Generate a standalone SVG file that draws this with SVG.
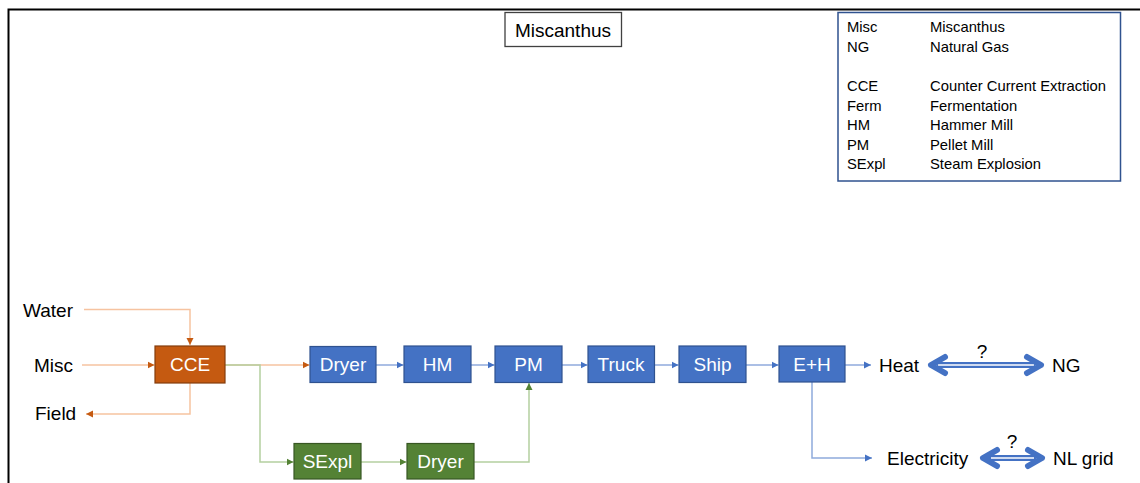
<svg xmlns="http://www.w3.org/2000/svg" width="1140" height="483" viewBox="0 0 1140 483">
<style>
text{font-family:"Liberation Sans",Arial,sans-serif;}
.lbl{font-size:19px;fill:#000;dominant-baseline:central;}
.nt{font-size:19px;fill:#fff;text-anchor:middle;dominant-baseline:central;}
.lg{font-size:14.8px;fill:#000;}
.blue{fill:#4472C4;stroke:#2F528F;stroke-width:1.2;}
.orange{fill:#C55A11;stroke:#843C0C;stroke-width:1.2;}
.green{fill:#548235;stroke:#385723;stroke-width:1.2;}
.co{fill:none;stroke:#F6C3A0;stroke-width:1.5;}
.cg{fill:none;stroke:#B4CFA0;stroke-width:1.5;}
.cb{fill:none;stroke:#8FAADC;stroke-width:1.5;}
.dbl{fill:none;stroke:#4472C4;stroke-width:6;stroke-linejoin:round;stroke-linecap:round;}
</style>
<defs>
<marker id="ao" markerUnits="userSpaceOnUse" markerWidth="8" markerHeight="8" refX="7" refY="4" orient="auto"><path d="M0,0.5 L7,4 L0,7.5 Z" fill="#C55A11"/></marker>
<marker id="ag" markerUnits="userSpaceOnUse" markerWidth="8" markerHeight="8" refX="7" refY="4" orient="auto"><path d="M0,0.5 L7,4 L0,7.5 Z" fill="#548235"/></marker>
<marker id="ab" markerUnits="userSpaceOnUse" markerWidth="8" markerHeight="8" refX="7" refY="4" orient="auto"><path d="M0,0.5 L7,4 L0,7.5 Z" fill="#4472C4"/></marker>
</defs>
<rect width="1140" height="483" fill="#fff"/>
<path d="M8.5,483 V9.5 H1140" fill="none" stroke="#000" stroke-width="2"/>

<g id="title"><rect x="505" y="12.5" width="116.5" height="34" fill="#fff" stroke="#404040" stroke-width="1.3"/><text x="563" y="30" class="lbl" text-anchor="middle">Miscanthus</text></g>

<g id="legend">
<rect x="838" y="12.5" width="282.5" height="168.5" fill="#fff" stroke="#2F528F" stroke-width="1.5"/>
<text class="lg" x="847" y="32">Misc</text><text class="lg" x="930" y="32">Miscanthus</text>
<text class="lg" x="847" y="51.5">NG</text><text class="lg" x="930" y="51.5">Natural Gas</text>
<text class="lg" x="847" y="91">CCE</text><text class="lg" x="930" y="91">Counter Current Extraction</text>
<text class="lg" x="847" y="110.5">Ferm</text><text class="lg" x="930" y="110.5">Fermentation</text>
<text class="lg" x="847" y="130">HM</text><text class="lg" x="930" y="130">Hammer Mill</text>
<text class="lg" x="847" y="149.5">PM</text><text class="lg" x="930" y="149.5">Pellet Mill</text>
<text class="lg" x="847" y="169">SExpl</text><text class="lg" x="930" y="169">Steam Explosion</text>
</g>

<g id="connectors">
<path class="co" d="M84,309.5 H190 V345" marker-end="url(#ao)"/>
<path class="co" d="M82,365 H154.5" marker-end="url(#ao)"/>
<path class="co" d="M190,383 V414 H86" marker-end="url(#ao)"/>
<path class="co" d="M225,365 H309.5" marker-end="url(#ao)"/>
<path class="cg" d="M225,365 H260 V462 H293.5" marker-end="url(#ag)"/>
<path class="cg" d="M361,462 H406.5" marker-end="url(#ag)"/>
<path class="cg" d="M474,462 H529 V383" marker-end="url(#ag)"/>
<path class="cb" d="M376,365 H403.5" marker-end="url(#ab)"/>
<path class="cb" d="M471,365 H494.5" marker-end="url(#ab)"/>
<path class="cb" d="M562,365 H587.5" marker-end="url(#ab)"/>
<path class="cb" d="M654,365 H678.5" marker-end="url(#ab)"/>
<path class="cb" d="M746,365 H778.5" marker-end="url(#ab)"/>
<path class="cb" d="M845,365 H871" marker-end="url(#ab)"/>
<path class="cb" d="M812,382 V458 H872" marker-end="url(#ab)"/>
</g>

<g id="lbl-water"><text class="lbl" x="23" y="310">Water</text></g>
<g id="lbl-misc"><text class="lbl" x="34" y="365">Misc</text></g>
<g id="lbl-field"><text class="lbl" x="35" y="413">Field</text></g>

<g id="node-cce"><rect class="orange" x="155" y="346" width="70" height="37"/><text class="nt" x="190" y="364.5">CCE</text></g>
<g id="node-dryer1"><rect class="blue" x="310" y="346.5" width="66" height="36"/><text class="nt" x="343" y="364.5">Dryer</text></g>
<g id="node-hm"><rect class="blue" x="404" y="346" width="67" height="36.5"/><text class="nt" x="437.5" y="364.5">HM</text></g>
<g id="node-pm"><rect class="blue" x="495" y="346" width="67" height="36.5"/><text class="nt" x="528.5" y="364.5">PM</text></g>
<g id="node-truck"><rect class="blue" x="588" y="346" width="66.5" height="36.5"/><text class="nt" x="621" y="364.5">Truck</text></g>
<g id="node-ship"><rect class="blue" x="679" y="346" width="67" height="36.5"/><text class="nt" x="712.5" y="364.5">Ship</text></g>
<g id="node-eh"><rect class="blue" x="779" y="346" width="66" height="36"/><text class="nt" x="812" y="364.5">E+H</text></g>
<g id="node-sexpl"><rect class="green" x="294" y="443.5" width="67" height="35.5"/><text class="nt" x="327.5" y="461">SExpl</text></g>
<g id="node-dryer2"><rect class="green" x="407" y="443.5" width="67" height="35.5"/><text class="nt" x="440.5" y="461">Dryer</text></g>

<g id="lbl-heat"><text class="lbl" x="879" y="365">Heat</text></g>
<g id="lbl-ng"><text class="lbl" x="1052" y="365">NG</text></g>
<g id="lbl-elec"><text class="lbl" x="887" y="458">Electricity</text></g>
<g id="lbl-nlgrid"><text class="lbl" x="1053" y="458">NL grid</text></g>

<g id="dbl-heat-ng">
<path class="dbl" d="M940,365 H1032"/>
<path d="M938,365 H1034" stroke="#fff" stroke-width="1.5"/>
<path class="dbl" d="M945,357 L931,365 L945,373" fill="#4472C4"/>
<path class="dbl" d="M1027,357 L1041,365 L1027,373" fill="#4472C4"/>
<text class="lbl" x="982" y="351" text-anchor="middle">?</text>
</g>
<g id="dbl-elec-grid">
<path class="dbl" d="M991,458 H1033"/>
<path d="M991,458 H1034" stroke="#fff" stroke-width="1.5"/>
<path class="dbl" d="M997,450 L983,458 L997,466" fill="#4472C4"/>
<path class="dbl" d="M1028,450 L1042,458 L1028,466" fill="#4472C4"/>
<text class="lbl" x="1012" y="441" text-anchor="middle">?</text>
</g>
</svg>
